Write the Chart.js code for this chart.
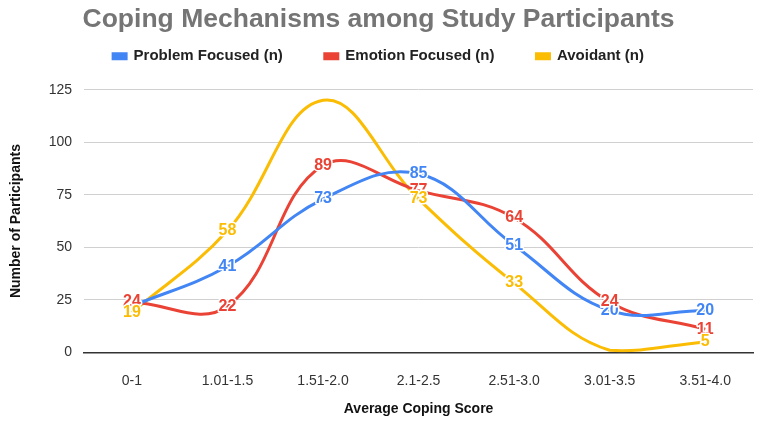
<!DOCTYPE html>
<html>
<head>
<meta charset="utf-8">
<script src="https://cdn.jsdelivr.net/npm/chart.js@4"></script>
<style>
  html, body { margin: 0; padding: 0; background: #fff; }
  #wrap { width: 767px; height: 422px; }
</style>
</head>
<body>
<div id="wrap"><canvas id="chart" width="767" height="422"></canvas></div>
<script>
const categories = ["0-1", "1.01-1.5", "1.51-2.0", "2.1-2.5", "2.51-3.0", "3.01-3.5", "3.51-4.0"];
const problemFocused = [22, 41, 73, 85, 51, 20, 20];
const emotionFocused = [24, 22, 89, 77, 64, 24, 11];
const avoidant = [19, 58, 120, 73, 33, 1, 5];
const yTicks = [0, 25, 50, 75, 100, 125];
// labels the original leaves out (hidden behind other marks)
const hiddenLabels = { 0: [0], 1: [], 2: [2, 5] };

const colors = ["#4285f4", "#ea4335", "#fbbc04"];
const font = "'Liberation Sans', Arial, sans-serif";

// draws the coloured value on each point
const pointLabels = {
  id: "pointLabels",
  afterDatasetsDraw(chart) {
    const ctx = chart.ctx;
    ctx.save();
    ctx.font = "bold 16px " + font;
    ctx.textAlign = "center";
    ctx.textBaseline = "middle";
    ctx.lineJoin = "round";
    chart.data.datasets.forEach((ds, i) => {
      chart.getDatasetMeta(i).data.forEach((pt, j) => {
        if (hiddenLabels[i].includes(j)) return;
        const txt = String(ds.data[j]);
        ctx.strokeStyle = "#fff";
        ctx.lineWidth = 3;
        ctx.strokeText(txt, pt.x, pt.y);
        ctx.fillStyle = colors[i];
        ctx.fillText(txt, pt.x, pt.y);
      });
    });
    ctx.restore();
  }
};

// extra room under the legend
const legendGap = {
  id: "legendGap",
  beforeInit(chart) {
    const fit = chart.legend.fit;
    chart.legend.fit = function () {
      fit.bind(chart.legend)();
      this.height += 16;
    };
  }
};

new Chart(document.getElementById("chart").getContext("2d"), {
  type: "line",
  data: {
    labels: categories,
    datasets: [
      { label: "Problem Focused (n)", data: problemFocused },
      { label: "Emotion Focused (n)", data: emotionFocused },
      { label: "Avoidant (n)", data: avoidant }
    ].map((d, i) => Object.assign(d, {
      borderColor: colors[i], backgroundColor: colors[i],
      borderWidth: 3, pointRadius: 0, tension: 0.4, fill: false
    }))
  },
  options: {
    responsive: false,
    animation: false,
    layout: { padding: { left: 4, right: 14, top: 2, bottom: 4 } },
    plugins: {
      title: {
        display: true,
        text: "Coping Mechanisms among Study Participants",
        color: "#757575",
        font: { family: font, size: 26.5, weight: "bold" },
        padding: { top: 2, bottom: -29 }
      },
      legend: {
        labels: {
          color: "#222",
          font: { family: font, size: 15, weight: "bold" },
          boxWidth: 13, boxHeight: 5, padding: 42
        }
      },
      tooltip: { enabled: false }
    },
    scales: {
      x: {
        offset: true,
        grid: { display: false },
        border: { color: "#333", width: 1.5 },
        ticks: { color: "#333", font: { family: font, size: 14 }, padding: 12, maxRotation: 0 },
        title: { display: true, text: "Average Coping Score", color: "#111",
                 font: { family: font, size: 14, weight: "bold" }, padding: { top: 0, bottom: 0 } }
      },
      y: {
        min: 0, max: 125,
        afterBuildTicks: axis => { axis.ticks = yTicks.map(v => ({ value: v })); },
        grid: { color: "#d0d0d0", drawTicks: false },
        border: { display: false },
        ticks: { color: "#333", font: { family: font, size: 14 }, padding: 12 },
        title: { display: true, text: "Number of Participants", color: "#111",
                 font: { family: font, size: 14, weight: "bold" }, padding: { bottom: 12 } }
      }
    }
  },
  plugins: [pointLabels, legendGap]
});
</script>
</body>
</html>
